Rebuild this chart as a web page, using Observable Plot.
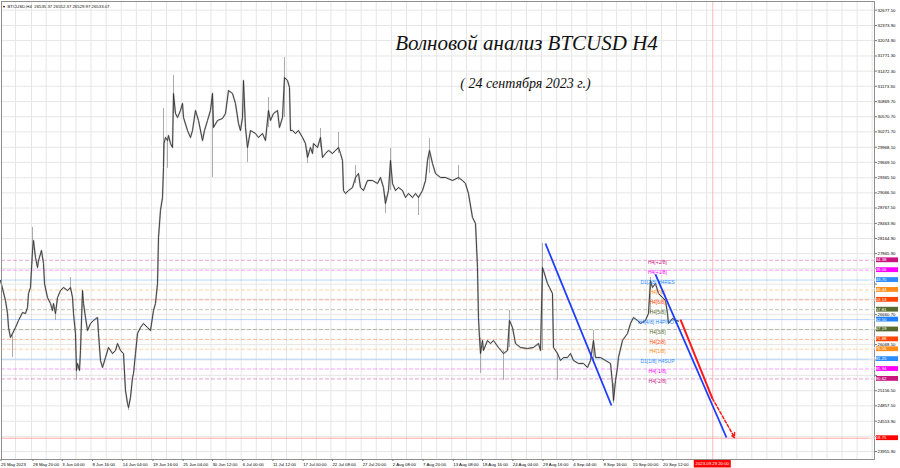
<!DOCTYPE html>
<html><head><meta charset="utf-8">
<script src="https://cdn.jsdelivr.net/npm/d3@7"></script>
<script src="https://cdn.jsdelivr.net/npm/@observablehq/plot@0.6"></script>
<style>
html,body{margin:0;padding:0;background:#fff;}
#chart{width:900px;height:468px;overflow:hidden;}
</style></head><body><div id="chart"></div>
<script>
// ---------- DATA ----------
const startUTC = Date.UTC(2023, 4, 23); // 23 May 2023 00:00 (days below are offsets from it)

const priceDay = [0.19,1.10,1.47,1.65,2.01,2.38,2.92,3.47,4.20,4.74,5.11,5.29,5.65,6.02,6.20,6.56,6.93,7.11,7.65,8.02,8.20,8.74,9.29,9.65,9.84,10.20,10.57,11.11,11.66,12.39,12.93,13.30,13.48,13.84,14.02,14.21,14.57,14.75,15.12,15.30,15.66,16.03,16.57,17.12,17.85,18.03,18.39,18.76,19.30,19.85,20.58,21.12,21.49,22.03,22.58,22.94,23.31,23.49,23.85,24.22,24.40,24.76,25.13,25.67,26.22,26.95,27.49,28.04,28.40,28.77,28.95,29.31,29.68,29.86,29.95,30.22,30.59,30.77,31.13,31.50,31.68,32.04,32.41,32.95,33.32,33.50,34.23,34.77,35.14,35.68,36.23,36.96,37.32,37.87,38.41,38.78,38.96,39.69,40.60,41.14,41.69,42.42,42.96,43.51,43.87,44.24,44.42,44.78,45.15,45.69,46.60,47.15,47.88,48.42,48.97,49.33,49.88,50.61,50.97,51.52,51.88,52.43,52.79,52.97,53.34,53.88,54.43,55.16,55.70,56.07,56.61,56.98,57.16,57.89,58.43,58.80,59.34,59.89,60.62,61.16,61.71,62.07,62.44,62.62,62.98,63.53,64.26,64.81,65.35,65.71,66.26,66.99,67.90,68.81,69.35,69.90,70.26,70.81,71.18,71.54,72.09,72.63,73.36,73.91,74.45,75.18,75.73,76.27,77.00,77.55,77.91,78.27,78.82,79.37,80.28,81.19,82.46,83.55,84.28,84.82,85.37,86.10,86.65,87.01,87.19,87.37,87.56,87.92,88.10,88.83,89.38,89.92,90.83,91.74,92.47,92.83,93.38,93.93,94.84,96.11,97.20,98.11,98.48,98.84,99.02,99.75,100.11,100.66,100.84,101.57,102.12,102.66,103.39,103.94,104.48,105.39,106.30,107.03,107.58,108.12,108.49,109.40,110.31,111.22,111.58,111.77,112.13,112.49,112.67,113.40,114.31,114.86,115.40,116.13,116.66,117.58,118.13,118.49,118.86,119.40,119.95,120.68,121.23,121.59,121.77,122.50,123.05,123.60];
const priceClose = [27335,26940,26683,26406,26209,26288,26406,26545,26703,26683,26801,27078,27197,27928,28125,27790,27592,27730,27928,27671,27276,26999,26880,26742,26880,26683,26999,27137,27197,27137,27197,26999,26683,26288,25557,25695,25557,25952,27137,26880,26604,26347,26485,26545,26604,26288,25754,25616,25813,26011,25892,25952,26090,25952,25892,25161,24905,24825,25023,25418,25497,25892,26288,26406,26485,26406,26347,26742,26880,27276,28185,28718,28975,29568,30042,30161,30101,30200,30042,29963,31030,30635,30556,30694,30833,30556,30299,30161,30299,30694,30497,30101,30299,30497,30694,31030,30358,30497,30536,30635,31089,31030,30833,30437,30299,30556,31287,30358,29963,30299,30240,30161,30240,30101,30694,30497,30635,30694,30358,30556,31346,31287,31149,30299,30299,30240,30299,30161,30042,29766,29963,29845,30042,29963,30161,29766,29845,29904,29845,29904,29963,29845,29706,29113,29054,29113,29173,29370,29449,29173,29113,29311,29311,29252,29370,29173,28857,29113,29706,29252,29113,29173,29113,28975,29054,28975,29054,28975,29113,29311,29706,29904,29647,29449,29370,29370,29311,29370,29311,29252,29054,28580,28461,27592,26604,26209,25892,26149,25952,26149,26090,26149,26011,25892,25952,26545,26406,26090,26011,25991,26011,26090,25952,27592,27533,27276,27197,27078,26011,25892,25754,25813,25813,25892,25754,25695,25695,25616,25754,26149,25813,25813,25754,25695,25300,24964,25359,25616,25813,26149,26288,26485,26604,26545,26485,26545,26683,27335,27197,27276,27078,26999,26940,26683,26485,26584,26545,26533];

const wickDay  = [2.38,6.02,10.20,12.93,14.02,23.49,29.86,30.59,31.68,38.78,45.15,48.97,51.88,56.07,58.43,61.71,64.81,70.26,71.18,76.27,78.27,83.55,87.56,91.74,92.83,98.84,101.57,108.12,111.77,118.49];
const wickLow  = [25813,27928,26545,27137,25359,24766,29568,29550,30635,29370,29667,30358,30556,29647,29963,29845,29250,28659,29113,28619,29449,29311,25497,25359,26011,25952,25359,25754,24905,26683];
const wickHigh = [26300,28382,26700,27394,25560,24830,30734,30101,31386,31030,30000,30951,31742,29900,30339,30260,29607,29000,29943,29000,30141,29607,26200,25950,26742,28066,25900,26347,25300,27394];

const murrayPrice = [27734.38,27539.06,27343.75,27148.44,26953.13,26757.81,26562.50,26367.19,26171.88,25976.56,25781.25,25585.94,25390.62];
const murrayLabel = ["H4[+2/8]","H4[+1/8]","D1[2/8] H4RES","H4[7/8]","H4[6/8]","H4[5/8]","H4[4/8] H4PIVOT","H4[3/8]","H4[2/8]","H4[1/8]","D1[1/8] H4SUP","H4[-1/8]","H4[-2/8]"];
const murrayKind  = ["m2","m1","res","q7","q6","q5","piv","q5","q6","q7","res","m1","m2"];

const targetPrice = 24218.75;
const forecastTime = "2023-09-29T20:00Z";
const forecastLabel = "2023.09.29 20:00";

// trend lines: [day1, price1, day2, price2]
const blueLines = [[99.38, 28066, 111.40, 24865], [119.40, 27454, 132.33, 24233]];
const redSolid  = [[123.96, 26564, 129.78, 25003]];
const redDashed = [[129.78, 25003, 133.79, 24233]];

// price grid levels (all get a grid line); labels that the price tags cover are not printed
const yTicks = [32677.50,32373.90,32074.90,31771.30,31472.30,31173.30,30869.70,30570.70,30271.70,29968.10,29669.10,29365.50,29066.50,28767.50,28463.90,28164.90,27865.90,27566.90,27263.30,26964.30,26660.70,26361.70,26068.50,25764.90,25460.90,25156.50,24857.50,24553.90,24254.90,23955.90];
const yHiddenLabels = [27566.90,27263.30,26964.30,26361.70,25764.90,25460.90,24254.90];

const timeTicks  = ["2023-05-23T00:00Z","2023-05-28T20:00Z","2023-06-03T04:00Z","2023-06-08T16:00Z","2023-06-14T04:00Z","2023-06-19T16:00Z","2023-06-25T04:00Z","2023-06-30T12:00Z","2023-07-06T00:00Z","2023-07-11T12:00Z","2023-07-17T00:00Z","2023-07-22T08:00Z","2023-07-27T20:00Z","2023-08-02T08:00Z","2023-08-07T20:00Z","2023-08-13T08:00Z","2023-08-18T16:00Z","2023-08-24T04:00Z","2023-08-29T16:00Z","2023-09-04T04:00Z","2023-09-09T16:00Z","2023-09-15T00:00Z","2023-09-20T12:00Z"];
const timeLabels = ["23 May 2023","28 May 20:00","3 Jun 04:00","8 Jun 16:00","14 Jun 04:00","19 Jun 16:00","25 Jun 04:00","30 Jun 12:00","6 Jul 00:00","11 Jul 12:00","17 Jul 00:00","22 Jul 08:00","27 Jul 20:00","2 Aug 08:00","7 Aug 20:00","13 Aug 08:00","18 Aug 16:00","24 Aug 04:00","29 Aug 16:00","4 Sep 04:00","9 Sep 16:00","15 Sep 00:00","20 Sep 12:00"];

const headerText = "BTCUSD,H4  26535.37 26552.37 26529.97 26533.07";
const titleText = "Волновой анализ BTCUSD H4";
const subtitleText = "( 24 сентября 2023 г.)";

// ---------- STYLES ----------
const kindStyle = {
  m2:  {color: "#c8157f", dash: true},
  m1:  {color: "#ff00ff", dash: true},
  res: {color: "#2b8cff", dash: false},
  q7:  {color: "#ff8c1a", dash: true},
  q6:  {color: "#ff4500", dash: true},
  q5:  {color: "#556b2f", dash: true},
  piv: {color: "#1e7fff", dash: false}
};

// ---------- BUILD ----------
const T = d => new Date(startUTC + d * 864e5);
const closeData = priceDay.map((d, i) => ({t: T(d), p: priceClose[i]}));
const wicks = wickDay.map((d, i) => ({t: T(d), lo: wickLow[i], hi: wickHigh[i]}));
const levels = murrayPrice.map((p, i) => ({p, label: murrayLabel[i], color: kindStyle[murrayKind[i]].color, dash: kindStyle[murrayKind[i]].dash}));
const seg = a => a.map(([d1, p1, d2, p2]) => ({x1: T(d1), y1: p1, x2: T(d2), y2: p2}));
const tickDates = timeTicks.map(s => new Date(s));
const labelMap = new Map(tickDates.map((d, i) => [+d, timeLabels[i]]));
const fDate = new Date(forecastTime);
const yLabelTicks = yTicks.filter(v => !yHiddenLabels.includes(v));

// vertical grid: every label plus the midpoint between labels, continued to the right edge
const gridTimes = [];
tickDates.forEach((d, i) => {
  gridTimes.push(d);
  if (i + 1 < tickDates.length) gridTimes.push(new Date((+d + +tickDates[i + 1]) / 2));
});
const step = (+tickDates[tickDates.length - 1] - +tickDates[0]) / (tickDates.length - 1) / 2;
for (let t = +tickDates[tickDates.length - 1] + step; t < +T(159.2); t += step) gridTimes.push(new Date(t));

const labelTime = T(119.77);
const FONT = "'Liberation Sans', Arial, sans-serif";

function tagMark(index, scales, values, dims) {
  const g = d3.create("svg:g").attr("font-family", FONT).attr("font-size", 4.3);
  const x0 = dims.width - dims.marginRight + 2;
  const tags = levels.map(l => ({p: l.p, c: l.color})).concat([{p: targetPrice, c: "#ff0000"}]);
  for (const t of tags) {
    const y = scales.y(t.p);
    g.append("rect").attr("x", x0).attr("y", y - 2.4).attr("width", 22).attr("height", 4.8).attr("fill", t.c);
    g.append("text").attr("x", x0 + 1.5).attr("y", y).attr("dy", "0.35em").attr("fill", "#fff").text(t.p.toFixed(2));
  }
  const fx = scales.x(fDate);
  const yb = dims.height - dims.marginBottom;
  g.append("rect").attr("x", fx - 18.5).attr("y", yb + 1).attr("width", 37).attr("height", 7.5).attr("fill", "#ff0000");
  g.append("text").attr("x", fx).attr("y", yb + 4.8).attr("dy", "0.35em").attr("text-anchor", "middle").attr("fill", "#fff").text(forecastLabel);
  return g.node();
}

const plot = Plot.plot({
  width: 900, height: 468,
  marginLeft: 1, marginRight: 26, marginTop: 1, marginBottom: 9,
  x: {type: "utc", domain: [T(0.373), T(159.27)], range: [1, 874], axis: null},
  y: {domain: [23798, 32848], range: [459, 1], axis: null},
  style: {fontFamily: FONT, background: "#fff", overflow: "visible"},
  marks: [
    Plot.gridY(yTicks, {stroke: "#e6e6e6", strokeOpacity: 1}),
    Plot.gridX(gridTimes, {stroke: "#e6e6e6", strokeOpacity: 1}),
    Plot.ruleY(levels.filter(d => d.dash), {y: "p", stroke: "color", strokeOpacity: 0.38, strokeDasharray: "4,2"}),
    Plot.ruleY(levels.filter(d => !d.dash), {y: "p", stroke: "color", strokeOpacity: 0.32}),
    Plot.ruleY([targetPrice], {stroke: "#ff8080", strokeOpacity: 0.7}),
    Plot.ruleX([fDate], {stroke: "#ff9a9a", strokeOpacity: 0.7}),
    Plot.ruleX(wicks, {x: "t", y1: "lo", y2: "hi", stroke: "#a0a0a0", strokeWidth: 0.9}),
    Plot.line(closeData, {x: "t", y: "p", stroke: "#9a9a9a", strokeWidth: 1.8, strokeOpacity: 0.5}),
    Plot.line(closeData, {x: "t", y: "p", stroke: "#303030", strokeWidth: 0.9}),
    Plot.text(levels, {x: () => labelTime, y: "p", text: "label", fill: "color", fontSize: 5, dy: 2.6}),
    Plot.link(seg(blueLines), {x1: "x1", y1: "y1", x2: "x2", y2: "y2", stroke: "#1f3cff", strokeWidth: 1.8}),
    Plot.link(seg(redSolid), {x1: "x1", y1: "y1", x2: "x2", y2: "y2", stroke: "#ff1a1a", strokeWidth: 2}),
    Plot.arrow(seg(redDashed), {x1: "x1", y1: "y1", x2: "x2", y2: "y2", stroke: "#ff1a1a", strokeWidth: 1.5, strokeDasharray: "3,2", headLength: 5}),
    Plot.frame({stroke: "#8f8f8f"}),
    Plot.axisY({ticks: yTicks, anchor: "right", tickSize: 2, tickPadding: 1, text: null, stroke: "#777"}),
    Plot.axisY({ticks: yLabelTicks, anchor: "right", tickSize: 0, tickPadding: 3, fontSize: 4.3, tickFormat: d => d.toFixed(2)}),
    Plot.axisX({ticks: tickDates, anchor: "bottom", tickSize: 2, tickPadding: 1, fontSize: 4.3, textAnchor: "start", dx: 1.5, tickFormat: d => labelMap.get(+d), stroke: "#777"}),
    tagMark,
    Plot.text(["▼"], {frameAnchor: "top-left", dx: 2.5, dy: 3.8, fontSize: 3.5, textAnchor: "middle"}),
    Plot.text([headerText], {frameAnchor: "top-left", dx: 6, dy: 3.8, fontSize: 4.3, textAnchor: "start", fill: "#111"}),
    Plot.text([titleText], {frameAnchor: "top-left", dx: 525, dy: 34, fontSize: 21, fontStyle: "italic", fontFamily: "'Liberation Serif', 'DejaVu Serif', serif", textAnchor: "middle", fill: "#111"}),
    Plot.text([subtitleText], {frameAnchor: "top-left", dx: 524, dy: 77, fontSize: 14, fontStyle: "italic", fontFamily: "'Liberation Serif', 'DejaVu Serif', serif", textAnchor: "middle", fill: "#111"})
  ]
});
document.getElementById("chart").appendChild(plot);
</script>
</body></html>
